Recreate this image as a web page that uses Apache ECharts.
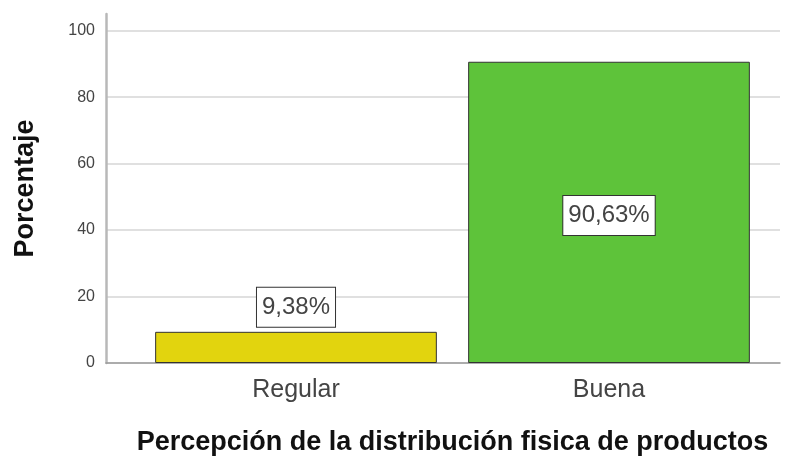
<!DOCTYPE html>
<html>
<head>
<meta charset="utf-8">
<script src="https://cdn.jsdelivr.net/npm/echarts@6/dist/echarts.min.js"></script>
<style>
html,body{margin:0;padding:0;background:#fff;}
#c{width:790px;height:461px;}
</style>
</head>
<body>
<div id="c"></div>
<script>
const categories = ['Regular', 'Buena'];
const values = [9.38, 90.63];
const labels = ['9,38%', '90,63%'];
const barColors = ['#E2D40E', '#5EC33A'];
const yTicks = [0, 20, 40, 60, 80, 100];

const chart = echarts.init(document.getElementById('c'));
const font = '"Liberation Sans", Arial, sans-serif';
const yBase = {
  type: 'value', min: 0, max: 105, interval: 20
};
chart.setOption({
  animation: false,
  backgroundColor: '#ffffff',
  grid: [
    { left: 106, right: 10, top: 14, bottom: 98, outerBoundsMode: 'none', containLabel: false },
    { left: 139.5, right: 24.5, top: 14, bottom: 98, outerBoundsMode: 'none', containLabel: false }
  ],
  xAxis: [
    {
      gridIndex: 0,
      type: 'value', min: 0, max: 1,
      axisLine: { show: true, onZero: false, lineStyle: { color: '#9a9a9a', width: 1.5 } },
      axisTick: { show: false },
      axisLabel: { show: false },
      splitLine: { show: false }
    },
    {
      gridIndex: 1,
      type: 'category',
      data: categories,
      name: 'Percepción de la distribución fisica de productos',
      nameLocation: 'middle',
      nameGap: 66,
      nameTextStyle: { fontFamily: font, fontSize: 27, fontWeight: 'bold', color: '#111' },
      axisLine: { show: false },
      axisTick: { show: false },
      axisLabel: { fontFamily: font, fontSize: 25, color: '#444', margin: 15 }
    }
  ],
  yAxis: [
    Object.assign({}, yBase, {
      gridIndex: 0,
      name: 'Porcentaje',
      nameLocation: 'middle',
      nameGap: 67,
      nameRotate: 90,
      nameTextStyle: { fontFamily: font, fontSize: 27, fontWeight: 'bold', color: '#111' },
      axisLine: { show: true, lineStyle: { color: '#b8b8b8', width: 2.5 } },
      axisTick: { show: false },
      axisLabel: {
        fontFamily: font, fontSize: 16, color: '#444', margin: 11,
        showMaxLabel: false,
        formatter: v => (yTicks.indexOf(v) >= 0 ? String(v) : '')
      },
      splitLine: { show: true, showMaxLine: false, lineStyle: { color: '#d6d6d6', width: 1.5 } }
    }),
    Object.assign({}, yBase, {
      gridIndex: 1,
      show: false,
      splitLine: { show: false }
    })
  ],
  series: [{
    type: 'bar',
    xAxisIndex: 1,
    yAxisIndex: 1,
    barWidth: '90%',
    data: values.map((v, i) => ({
      value: v,
      itemStyle: { color: barColors[i], borderColor: '#333', borderWidth: 1 },
      label: i === 0
        ? { position: 'top', distance: 5 }
        : { position: 'inside', offset: [0, 3] }
    })),
    label: {
      show: true,
      formatter: p => labels[p.dataIndex],
      fontFamily: font,
      fontSize: 24,
      color: '#444',
      backgroundColor: '#fff',
      borderColor: '#333',
      borderWidth: 1,
      padding: [8, 5, 7, 5]
    }
  }]
});
</script>
</body>
</html>
